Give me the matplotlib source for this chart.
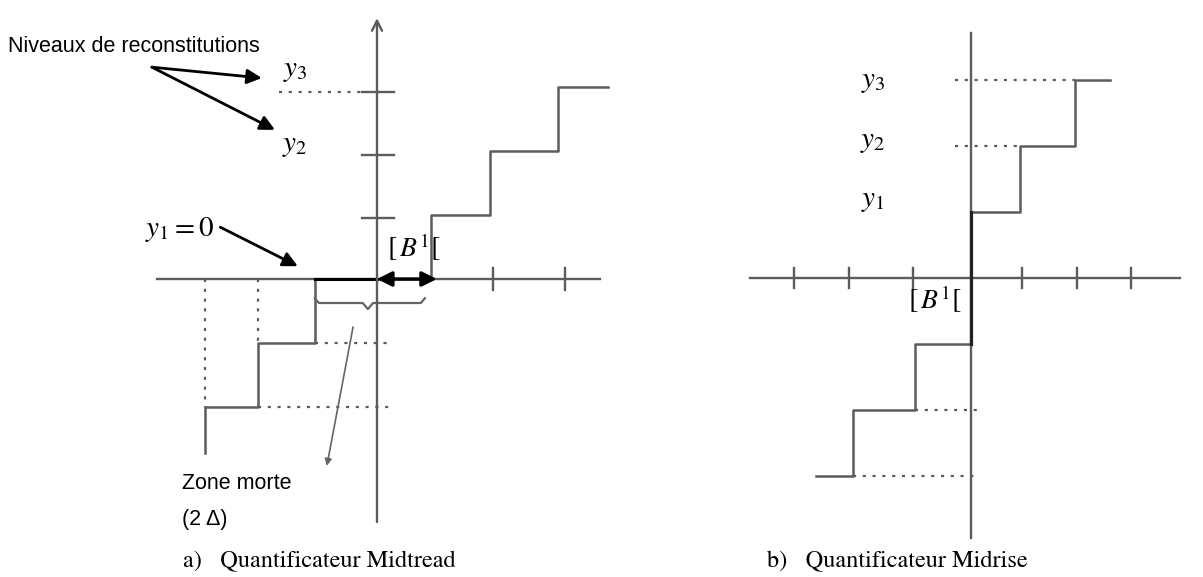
import matplotlib
matplotlib.use("Agg")
import matplotlib.pyplot as plt

plt.rcParams['mathtext.fontset'] = 'stix'

# (a) midtread quantizer: step edges (input units) and output levels
mt_edges = [-3.02, -2.09, -1.09, 0.95, 1.98, 3.18, 4.05]
mt_levels = [-2, -1, 0, 1, 2, 3]
mt_start = -2.72            # the lowest step is cut off below
mt_xticks = [2.03, 3.3]
mt_yticks = [0.95, 1.94, 2.92]

# (b) midrise quantizer
mr_edges = [-2.82, -2.15, -1.02, 0.0, 0.89, 1.89, 2.53]
mr_levels = [-3, -2, -1, 1, 2, 3]
mr_xticks = [-3.22, -2.22, -1.05, 0.93, 1.93, 2.91]

level_labels = ['$y_3$', '$y_2$', '$y_1$']

W, H = 1203, 577
GRAY = '#5c5c5c'
DOT = (0, (1.4, 3.0))


def panel(fig, x0, y0, ux, uy):
    # overlay axis whose unit step is ux x uy pixels, origin at pixel (x0, y0)
    ax = fig.add_axes([0, 0, 1, 1])
    ax.set_xlim(-x0 / ux, (W - x0) / ux)
    ax.set_ylim(-(H - y0) / uy, y0 / uy)
    ax.axis('off')
    ax.patch.set_alpha(0)
    return ax


def staircase(edges, levels, start=None):
    xs, ys = [], []
    if start is not None:
        xs.append(edges[0]); ys.append(start)
    for i, lev in enumerate(levels):
        xs += [edges[i], edges[i + 1]]
        ys += [lev, lev]
    return xs, ys


fig = plt.figure(figsize=(W / 100, H / 100), dpi=100)

sans = dict(family='Liberation Sans', fontsize=15.5)
serif = dict(family='STIXGeneral', fontsize=17.5)
MATH = 21

# ---------------- a) Midtread ----------------
ax = panel(fig, 377, 279, 57, 64)
ax.plot([-3.86, 3.91], [0, 0], color=GRAY, lw=1.7)
ax.annotate('', xy=(0, 4.12), xytext=(0, -3.84),
            arrowprops=dict(arrowstyle='->', color=GRAY, lw=1.7, mutation_scale=18))
for t in mt_xticks:
    ax.plot([t, t], [-0.17, 0.17], color=GRAY, lw=1.7)
for t in mt_yticks:
    ax.plot([-0.26, 0.3], [t, t], color=GRAY, lw=1.7)

xs, ys = staircase(mt_edges, mt_levels, mt_start)
ax.plot(xs, ys, color=GRAY, lw=1.8)
ax.plot([mt_edges[2], 0], [0, 0], color='black', lw=2.2)

# dotted guides
ax.plot([-1.72, -0.28], [mt_yticks[2]] * 2, color=GRAY, lw=1.6, ls=DOT)
ax.plot([mt_edges[2], 0.28], [mt_levels[1]] * 2, color=GRAY, lw=1.6, ls=DOT)
ax.plot([mt_edges[1], 0.28], [mt_levels[0]] * 2, color=GRAY, lw=1.6, ls=DOT)
ax.plot([mt_edges[1]] * 2, [0, mt_levels[1]], color=GRAY, lw=1.6, ls=DOT)
ax.plot([mt_edges[0]] * 2, [0, mt_levels[0]], color=GRAY, lw=1.6, ls=DOT)

# dead zone arrow and brace
ax.annotate('', xy=(1.05, 0), xytext=(0, 0),
            arrowprops=dict(arrowstyle='<|-|>', color='black', lw=2.4,
                            mutation_scale=22, shrinkA=0, shrinkB=0))
ax.plot([-1.09, -1.02, -0.25, -0.16, -0.07, 0.77, 0.84],
        [-0.3, -0.375, -0.375, -0.47, -0.375, -0.375, -0.3], color='#666666', lw=1.6)
ax.annotate('', xy=(-0.88, -2.92), xytext=(-0.42, -0.75),
            arrowprops=dict(arrowstyle='-|>', color='#666666', lw=1.2,
                            mutation_scale=10, shrinkA=0, shrinkB=0))

# labels
ax.text(-6.47, 3.64, 'Niveaux de reconstitutions', ha='left', va='center', **sans)
for tgt in [(-2.02, 3.14), (-1.79, 2.33)]:
    ax.annotate('', xy=tgt, xytext=(-3.95, 3.31),
                arrowprops=dict(arrowstyle='-|>', color='black', lw=2.0,
                                mutation_scale=22, shrinkA=0, shrinkB=0))
ax.text(-1.44, 3.27, level_labels[0], ha='center', va='center', fontsize=MATH)
ax.text(-1.44, 2.09, level_labels[1], ha='center', va='center', fontsize=MATH)
ax.text(-4.07, 0.77, r'$y_1=0$', ha='left', va='center', fontsize=MATH)
ax.annotate('', xy=(-1.39, 0.2), xytext=(-2.75, 0.81),
            arrowprops=dict(arrowstyle='-|>', color='black', lw=2.0,
                            mutation_scale=22, shrinkA=0, shrinkB=0))
ax.text(0.17, 0.5, r'$[\,B^1[$', ha='left', va='center', fontsize=MATH - 1)
ax.text(-3.42, -3.19, 'Zone morte', ha='left', va='center', **sans)
ax.text(-3.42, -3.75, '(2 \u0394)', ha='left', va='center', **sans)
ax.text(-3.4, -4.42, 'a)   Quantificateur Midtread', ha='left', va='center', **serif)

# ---------------- b) Midrise ----------------
bx = panel(fig, 971, 278, 55, 66)
bx.plot([-4.02, 3.8], [0, 0], color=GRAY, lw=1.7)
bx.plot([0, 0], [-3.94, 3.71], color=GRAY, lw=1.7)
for t in mr_xticks:
    bx.plot([t, t], [-0.15, 0.15], color=GRAY, lw=1.7)

xs, ys = staircase(mr_edges, mr_levels)
bx.plot(xs, ys, color=GRAY, lw=1.8)
bx.plot([0, 0], [mr_levels[2], mr_levels[3]], color='#222222', lw=2.3)

bx.plot([-0.29, mr_edges[5]], [mr_levels[5]] * 2, color=GRAY, lw=1.6, ls=DOT)
bx.plot([-0.29, mr_edges[4]], [mr_levels[4]] * 2, color=GRAY, lw=1.6, ls=DOT)
bx.plot([mr_edges[2], 0.16], [mr_levels[1]] * 2, color=GRAY, lw=1.6, ls=DOT)
bx.plot([mr_edges[1], 0.16], [mr_levels[0]] * 2, color=GRAY, lw=1.6, ls=DOT)

for lab, yy in zip(level_labels, [2.98, 2.08, 1.18]):
    bx.text(-1.78, yy, lab, ha='center', va='center', fontsize=MATH)
bx.text(-0.65, -0.33, r'$[\,B^1[$', ha='center', va='center', fontsize=MATH - 1)
bx.text(-3.71, -4.30, 'b)   Quantificateur Midrise', ha='left', va='center', **serif)

fig.savefig('out.png', dpi=100)
